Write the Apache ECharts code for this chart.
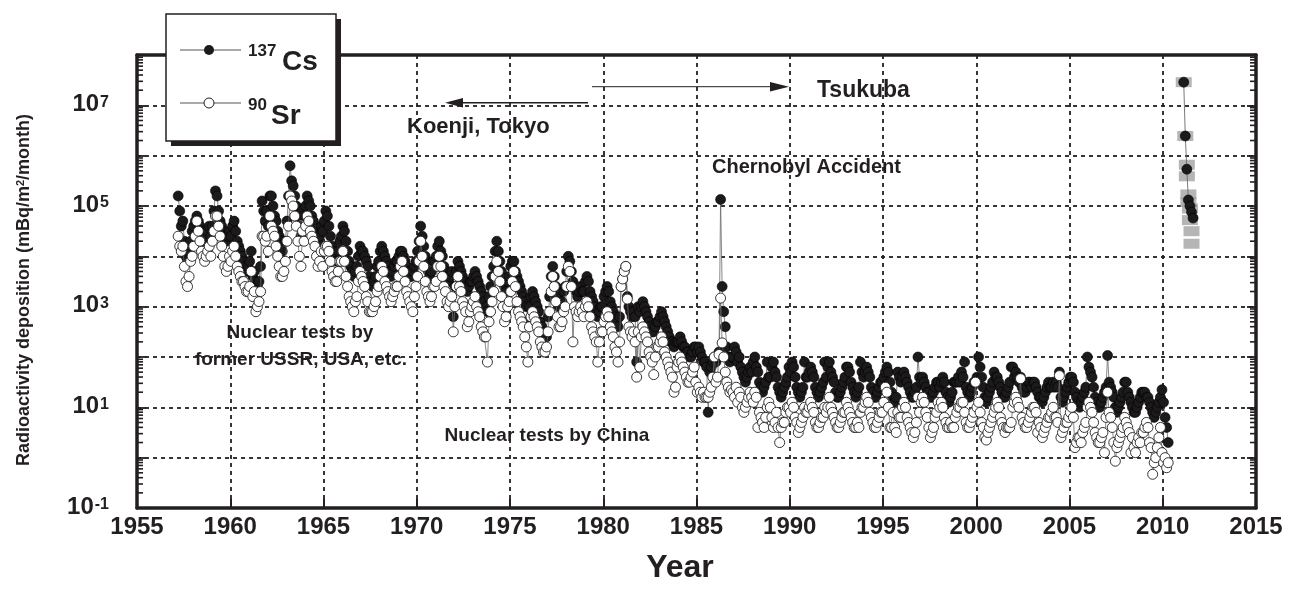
<!DOCTYPE html>
<html><head><meta charset="utf-8">
<script src="https://cdn.jsdelivr.net/npm/echarts@6.0.0/dist/echarts.min.js"></script>
<style>html,body{margin:0;padding:0;background:#fff}#c{width:1293px;height:601px}</style>
</head><body><div id="c"></div>
<script>
// Values are log10 of monthly deposition (mBq/m2/month).
// Monthly series start in April 1957.
const startYear = 1957, startMonth = 4;

const cs1957_59 = [
  5.2,4.9,4.6,4.7,4.3,4.0,3.9,4.1,4.3,
  4.5,4.6,4.7,4.8,4.7,4.6,4.5,4.4,4.3,4.4,4.5,4.6,
  4.4,4.6,4.9,5.3,5.2,4.9,4.7,4.6,4.5,4.4,4.3,4.4];
const sr1957_59 = [
  4.4,4.2,4.1,4.2,3.8,3.5,3.4,3.6,3.9,
  4.0,4.2,4.4,4.7,4.5,4.3,4.1,4.0,3.9,4.0,4.1,4.2,
  4.0,4.3,4.5,4.8,4.8,4.6,4.4,4.2,4.0,3.8,3.7,3.8];

const cs1960s = [
  4.5,4.4,4.6,4.7,4.5,4.3,4.2,4.1,4.0,3.9,3.8,3.7,
  3.8,3.9,4.1,3.6,3.7,3.5,3.4,3.5,3.8,5.1,4.9,4.7,
  4.9,4.6,5.2,5.2,5.0,4.8,4.7,4.5,4.4,4.3,4.1,3.9,
  4.3,4.7,5.2,5.8,5.5,5.4,5.2,5.0,4.8,4.6,4.4,4.9,
  4.8,5.0,5.2,5.1,5.0,4.8,4.7,4.5,4.4,4.3,4.4,4.6,
  4.5,4.7,4.9,4.8,4.6,4.4,4.2,4.1,4.0,3.9,4.1,4.3,
  4.4,4.6,4.5,4.3,4.1,3.9,3.8,3.7,3.6,3.7,3.8,4.0,
  4.2,4.1,4.1,4.0,3.9,3.8,3.6,3.5,3.4,3.5,3.6,3.8,
  3.9,4.1,4.2,4.1,4.0,3.9,3.8,3.7,3.6,3.7,3.8,3.9,
  3.9,4.0,4.1,4.1,4.0,3.9,3.8,3.7,3.6,3.6,3.7,3.8];
const sr1960s = [
  4.0,3.9,4.1,4.2,4.0,3.8,3.7,3.6,3.5,3.5,3.4,3.3,
  3.3,3.4,3.7,3.2,3.3,2.9,3.0,3.1,3.3,4.4,4.4,4.3,
  4.4,4.1,4.8,4.6,4.5,4.4,4.2,4.0,3.8,3.6,3.6,3.7,
  3.9,4.3,4.6,5.2,5.1,5.0,4.8,4.6,4.3,4.0,3.8,4.5,
  4.3,4.6,4.8,4.7,4.5,4.4,4.3,4.2,4.0,3.8,3.9,4.1,
  3.8,4.1,4.2,4.2,4.1,3.9,3.7,3.6,3.5,3.5,3.7,3.9,
  3.9,4.1,3.9,3.6,3.4,3.2,3.1,3.0,2.9,3.1,3.2,3.5,
  3.7,3.6,3.5,3.4,3.2,3.1,2.9,2.9,2.9,3.0,3.1,3.3,
  3.4,3.6,3.8,3.7,3.5,3.4,3.3,3.2,3.1,3.2,3.3,3.4,
  3.4,3.6,3.8,3.9,3.7,3.5,3.3,3.2,3.1,3.0,2.9,3.2];

const cs1970s = [
  3.9,4.1,4.3,4.6,4.4,4.2,4.0,3.9,3.7,3.6,3.7,3.9,
  3.9,4.0,4.2,4.3,4.1,4.0,3.8,3.7,3.6,3.5,3.6,3.7,
  2.8,3.4,3.7,3.9,3.8,3.7,3.6,3.5,3.4,3.3,3.4,3.5,
  3.5,3.6,3.7,3.6,3.5,3.4,3.3,3.2,3.1,3.0,2.9,3.2,
  3.4,3.6,3.8,4.1,4.3,4.1,3.9,3.7,3.5,3.4,3.3,3.5,
  3.6,3.8,3.9,3.9,3.7,3.6,3.5,3.4,3.3,3.2,3.1,3.0,
  2.7,3.0,3.2,3.3,3.2,3.1,3.0,2.9,2.7,2.6,2.5,2.4,
  2.4,2.8,3.2,3.6,3.8,3.6,3.4,3.2,3.0,3.0,3.1,3.3,
  3.4,3.7,4.0,3.9,3.7,3.5,3.4,3.3,3.2,3.3,3.4,3.3,
  3.3,3.5,3.6,3.5,3.3,3.2,3.1,3.0,2.9,2.8,2.9,3.0];
const sr1970s = [
  3.4,3.6,3.9,4.3,4.0,3.8,3.5,3.3,3.2,3.1,3.2,3.4,
  3.4,3.5,3.8,4.0,3.8,3.6,3.4,3.3,3.1,3.0,3.1,3.2,
  2.5,3.0,3.4,3.6,3.4,3.3,3.1,3.0,2.9,2.6,2.7,2.9,
  3.0,3.1,3.2,3.0,2.9,2.8,2.6,2.5,2.4,2.4,1.9,2.7,
  2.9,3.1,3.3,3.6,3.9,3.7,3.5,3.2,3.0,2.7,2.8,3.0,
  3.1,3.3,3.5,3.7,3.4,3.1,2.9,2.8,2.7,2.6,2.4,2.2,
  1.9,2.6,2.8,2.9,2.8,2.7,2.6,2.5,2.3,2.2,2.1,2.1,
  2.2,2.5,2.9,3.3,3.6,3.4,3.1,2.8,2.6,2.6,2.7,2.9,
  3.0,3.4,3.8,3.7,3.4,2.3,3.0,2.9,2.8,2.9,3.0,2.9,
  2.8,3.0,3.1,3.0,2.8,2.6,2.5,2.4,2.3,1.9,2.3,2.5];

const cs1980s = [
  3.0,3.2,3.3,3.4,3.3,3.1,3.0,2.9,2.8,2.7,2.6,2.8,
  3.4,3.55,3.7,3.8,3.2,3.0,2.9,2.8,2.9,2.8,1.9,3.0,
  2.9,3.0,3.1,3.0,2.9,2.8,2.7,2.6,2.5,2.5,2.6,2.7,
  2.7,2.8,2.9,2.8,2.7,2.6,2.5,2.4,2.3,2.3,2.2,2.3,
  2.3,2.3,2.4,2.3,2.2,2.2,2.1,2.1,2.0,2.0,2.1,2.2,
  2.2,2.1,2.2,2.1,2.0,1.9,1.9,1.8,0.9,1.7,1.8,1.9,
  2.0,1.9,2.0,2.1,5.13,3.4,2.9,2.6,2.2,2.0,1.9,2.0,
  2.0,2.2,2.1,1.9,2.0,1.8,1.7,1.6,1.5,1.6,1.7,1.8,
  1.7,1.9,2.0,1.8,1.7,1.5,1.4,1.3,1.4,1.5,1.9,1.6,
  1.6,1.8,1.9,1.7,1.6,1.4,1.3,1.2,1.3,1.4,1.5,1.6];
const sr1980s = [
  2.5,2.7,2.8,2.9,2.8,2.6,2.5,2.4,2.2,2.1,1.9,2.3,
  3.4,3.55,3.7,3.8,3.15,2.6,2.5,2.4,2.5,2.3,1.6,2.5,
  1.8,2.4,2.6,2.5,2.4,2.3,2.1,2.0,1.9,1.65,2.0,2.2,
  2.2,2.3,2.4,2.3,2.1,2.0,1.9,1.8,1.7,1.6,1.3,1.4,
  1.8,1.9,2.0,1.9,1.8,1.7,1.6,1.5,1.5,1.6,1.7,1.8,
  1.5,1.3,1.4,1.3,1.2,1.3,1.2,1.2,1.2,1.3,1.4,1.6,
  2.0,1.5,1.6,2.05,3.17,2.28,2.0,1.7,1.5,1.4,1.3,1.35,
  1.3,1.2,1.4,1.1,1.3,1.2,1.0,0.9,1.0,1.1,1.2,1.3,
  1.2,1.1,1.3,1.2,0.6,0.9,0.8,0.7,0.6,0.8,1.0,1.1,
  1.0,0.8,0.6,0.7,0.9,0.6,0.3,0.6,0.7,0.7,0.9,1.0];

const cs1990s = [
  1.8,1.7,1.9,1.8,1.6,1.4,1.3,1.2,1.3,1.4,1.9,1.6,
  1.6,1.7,1.8,1.7,1.6,1.4,1.3,1.2,1.3,1.4,1.5,1.9,
  1.6,1.8,1.9,1.7,1.6,1.5,1.3,1.2,1.2,1.3,1.4,1.5,
  1.6,1.8,1.8,1.7,1.5,1.4,1.3,1.2,1.3,1.4,1.9,1.7,
  1.6,1.7,1.8,1.7,1.6,1.4,1.3,1.2,1.2,1.3,1.4,1.5,
  1.5,1.6,1.7,1.8,1.7,1.5,1.3,1.2,1.1,1.2,1.7,1.6,
  1.5,1.6,1.7,1.6,1.5,1.4,1.3,1.2,1.2,1.3,1.4,2.0,
  1.6,1.5,1.6,1.5,1.4,1.3,1.3,1.2,1.2,1.3,1.4,1.5,
  1.5,1.4,1.5,1.6,1.5,1.3,1.2,1.1,1.2,1.3,1.5,1.5,
  1.5,1.6,1.5,1.7,1.6,1.9,1.4,1.3,1.2,1.3,1.4,1.5];
const sr1990s = [
  1.0,0.9,1.1,1.0,0.8,0.7,0.5,0.6,0.7,0.8,1.0,0.9,
  0.9,1.0,1.1,1.0,0.9,0.7,0.6,0.6,0.7,0.8,0.8,1.0,
  0.9,1.0,1.2,1.0,0.9,0.8,0.7,0.6,0.6,0.7,0.8,0.9,
  0.9,1.1,1.0,0.9,0.8,0.7,0.6,0.6,0.7,0.6,0.9,1.0,
  1.0,1.1,1.2,1.1,0.9,0.8,0.7,0.6,0.6,0.7,0.8,0.9,
  0.9,1.1,1.4,1.3,1.0,0.6,0.6,0.9,0.6,0.5,0.9,0.8,
  0.8,1.0,1.1,1.0,0.8,0.7,0.6,0.5,0.4,0.5,0.7,1.2,
  0.9,1.1,1.2,1.1,0.9,0.8,0.6,0.4,0.5,0.6,0.8,0.9,
  1.1,1.0,1.1,1.0,0.8,0.7,0.6,0.6,0.7,0.6,0.6,0.8,
  0.9,1.0,1.0,1.1,1.1,0.9,0.7,0.6,0.6,0.7,0.8,0.9];

const cs2000s = [
  1.5,1.6,2.0,1.8,1.6,1.4,1.2,1.1,1.2,1.3,1.4,1.5,
  1.7,1.6,1.6,1.5,1.4,1.3,1.2,1.2,1.3,1.4,1.5,1.8,
  1.8,1.6,1.7,1.6,1.5,1.6,1.4,1.3,1.3,1.4,1.5,1.5,
  1.4,1.5,1.5,1.4,1.3,1.2,1.2,1.1,1.2,1.3,1.4,1.5,
  1.4,1.4,1.5,1.4,1.5,1.4,1.7,1.2,1.1,1.2,1.3,1.4,
  1.5,1.6,1.6,1.5,1.3,1.2,1.1,1.0,1.1,1.2,1.3,1.4,
  2.0,1.8,1.7,1.6,1.4,1.2,1.1,1.0,1.0,1.1,1.2,1.3,
  1.4,2.03,1.5,1.4,1.3,1.2,1.0,0.9,1.0,1.1,1.2,1.3,
  1.5,1.5,1.3,1.2,1.1,1.0,0.9,0.9,1.0,1.1,1.2,1.3,
  1.3,1.3,1.2,1.2,1.1,1.0,0.9,0.8,0.9,1.0,1.1,1.2];
const sr2000s = [
  1.5,1.0,1.1,0.9,0.7,0.6,0.4,0.35,0.5,0.6,0.7,0.8,
  0.9,1.0,1.1,1.0,0.8,0.7,0.6,0.5,0.6,0.6,0.6,0.7,
  1.0,1.1,1.2,1.1,1.0,1.57,0.8,0.7,0.6,0.6,0.7,0.8,
  0.9,1.0,1.0,0.9,0.5,0.7,0.6,0.4,0.5,0.6,0.7,0.8,
  0.8,0.9,1.0,0.8,0.8,0.7,1.63,0.4,0.5,0.6,0.7,0.7,
  0.8,0.9,1.0,0.8,0.2,0.3,0.4,0.4,0.3,0.5,0.6,0.7,
  1.0,1.1,1.0,0.9,0.7,0.5,0.4,0.3,0.3,0.4,0.5,0.1,
  0.8,1.3,0.9,0.8,0.6,0.3,-0.07,0.2,0.3,0.4,0.5,0.6,
  0.8,0.7,0.6,0.5,0.1,0.4,0.2,0.1,0.3,0.4,0.3,0.5,
  0.5,0.6,0.7,0.6,0.3,0.2,-0.33,-0.1,0.0,0.2,0.4,0.6];

const cs2010 = [1.35,1.1,0.8,0.6,0.3];
const sr2010 = [0.1,-0.1,0.0,-0.2,-0.1];

// 2011 (Tsukuba, after Fukushima), month numbers and log10 values
const cs2011Months = [3,4,5,6,7,8,9];
const cs2011 = [7.46,6.39,5.73,5.12,5.0,4.88,4.76];
const grey2011Months = [3,4,5,5,6,6,7,7,8,8];
const grey2011 = [7.46,6.39,5.82,5.59,5.23,5.08,4.95,4.72,4.5,4.25];

const xTicks = [1955,1960,1965,1970,1975,1980,1985,1990,1995,2000,2005,2010,2015];

function monthly(lists) {
  const out = []; let y = startYear, m = startMonth;
  lists.forEach(arr => arr.forEach(v => {
    out.push([y + (m - 1.5) / 12, v]);
    m++; if (m > 12) { m = 1; y++; }
  }));
  return out;
}
function inYear(year, months, vals) { return vals.map((v, i) => [year + (months[i] - 1.5) / 12, v]); }

const csData = monthly([cs1957_59, cs1960s, cs1970s, cs1980s, cs1990s, cs2000s, cs2010]);
const srData = monthly([sr1957_59, sr1960s, sr1970s, sr1980s, sr1990s, sr2000s, sr2010]);
const cs11Data = inYear(2011, cs2011Months, cs2011);
const grey11Data = inYear(2011, grey2011Months, grey2011);

// log minor tick positions (axis decoration)
const minorTicks = [];
for (let n = -1; n < 8; n++) for (let k = 2; k <= 9; k++) minorTicks.push([1955, n + Math.log10(k)]);

const FF = '"Liberation Sans", Arial, sans-serif';
const INK = '#231f20';

const chart = echarts.init(document.getElementById('c'), null, {renderer: 'canvas'});
chart.setOption({
  animation: false,
  backgroundColor: '#fff',
  grid: {left: 137, right: 37, top: 55, bottom: 93},
  xAxis: [{
    type: 'value', min: 1955, max: 2015, interval: 5, position: 'bottom',
    axisLine: {onZero: false, lineStyle: {color: INK, width: 3.5}},
    axisTick: {inside: true, length: 9, lineStyle: {color: INK, width: 2}},
    axisLabel: {fontSize: 24, fontWeight: 'bold', color: INK, fontFamily: FF, margin: 7,
      formatter: v => xTicks.indexOf(v) >= 0 ? String(v) : ''},
    splitLine: {show: true, lineStyle: {color: INK, width: 1.8, type: [4, 4]}}
  }, {
    type: 'value', min: 1955, max: 2015, interval: 5, position: 'top',
    axisLine: {onZero: false, lineStyle: {color: INK, width: 3.5}},
    axisTick: {show: false}, axisLabel: {show: false}, splitLine: {show: false}
  }],
  yAxis: [{
    type: 'value', min: -1, max: 8, interval: 1, position: 'left',
    axisLine: {onZero: false, lineStyle: {color: INK, width: 3.5}},
    axisTick: {inside: true, length: 9, lineStyle: {color: INK, width: 1.8}},
    axisLabel: {
      margin: 28,
      formatter: v => (Math.abs(v) % 2 === 1) ? '{b|10}{s|' + v + '}' : '',
      rich: {
        b: {fontSize: 24, fontWeight: 'bold', color: INK, fontFamily: FF, verticalAlign: 'bottom', lineHeight: 22},
        s: {fontSize: 16, fontWeight: 'bold', color: INK, fontFamily: FF, verticalAlign: 'top', lineHeight: 14, padding: [0, 0, 0, 1]}
      }
    },
    splitLine: {show: true, lineStyle: {color: INK, width: 1.8, type: [4, 4]}}
  }, {
    type: 'value', min: -1, max: 8, interval: 1, position: 'right',
    axisLine: {onZero: false, lineStyle: {color: INK, width: 3.5}},
    axisTick: {inside: true, length: 9, lineStyle: {color: INK, width: 1.8}},
    axisLabel: {show: false}, splitLine: {show: false}
  }],
  series: [
    {
      name: '137Cs', type: 'line', data: csData, xAxisIndex: 0, yAxisIndex: 0,
      symbol: 'circle', symbolSize: 10, showSymbol: true, showAllSymbol: true,
      itemStyle: {color: '#1c1a1b', borderColor: '#000', borderWidth: 0.6},
      lineStyle: {color: '#6a6a6a', width: 0.8}, z: 3, silent: true
    },
    {
      name: '90Sr', type: 'line', data: srData,
      symbol: 'circle', symbolSize: 10, showSymbol: true, showAllSymbol: true,
      itemStyle: {color: '#ffffff', borderColor: INK, borderWidth: 0.9},
      lineStyle: {color: '#6a6a6a', width: 0.8}, z: 4, silent: true
    },
    {
      name: 'grey 2011', type: 'scatter', data: grey11Data,
      symbol: 'rect', symbolSize: [16, 10],
      itemStyle: {color: '#a3a3a3'}, z: 3, silent: true
    },
    {
      name: '137Cs 2011', type: 'line', data: cs11Data,
      symbol: 'circle', symbolSize: 10, showSymbol: true,
      itemStyle: {color: '#1c1a1b', borderColor: '#000', borderWidth: 0.6},
      lineStyle: {color: '#6a6a6a', width: 0.9}, z: 4, silent: true
    },
    {
      name: 'minor ticks', type: 'custom', data: minorTicks, silent: true, z: 6,
      renderItem: function (params, api) {
        const y = api.coord([api.value(0), api.value(1)])[1];
        const cs = params.coordSys;
        return {type: 'group', children: [
          {type: 'line', shape: {x1: cs.x, y1: y, x2: cs.x + 6, y2: y}, style: {stroke: INK, lineWidth: 1.6}},
          {type: 'line', shape: {x1: cs.x + cs.width - 6, y1: y, x2: cs.x + cs.width, y2: y}, style: {stroke: INK, lineWidth: 1.6}}
        ]};
      }
    }
  ],
  graphic: [
    // legend box with shadow
    {type: 'rect', z: 100, shape: {x: 171, y: 19, width: 170, height: 127}, style: {fill: INK}},
    {type: 'rect', z: 101, shape: {x: 166, y: 14, width: 170, height: 127}, style: {fill: '#fff', stroke: INK, lineWidth: 1.5}},
    {type: 'line', z: 102, shape: {x1: 180, y1: 50, x2: 241, y2: 50}, style: {stroke: '#555', lineWidth: 1}},
    {type: 'circle', z: 103, shape: {cx: 209, cy: 50, r: 5}, style: {fill: '#1c1a1b'}},
    {type: 'text', z: 103, style: {text: '137', x: 248, y: 51, font: 'bold 17px ' + FF, fill: INK, align: 'left', verticalAlign: 'middle', textAlign: 'left', textVerticalAlign: 'middle'}},
    {type: 'text', z: 103, style: {text: 'Cs', x: 282, y: 62, font: 'bold 28px ' + FF, fill: INK, align: 'left', verticalAlign: 'middle', textAlign: 'left', textVerticalAlign: 'middle'}},
    {type: 'line', z: 102, shape: {x1: 180, y1: 103, x2: 241, y2: 103}, style: {stroke: '#555', lineWidth: 1}},
    {type: 'circle', z: 103, shape: {cx: 209, cy: 103, r: 5}, style: {fill: '#fff', stroke: INK, lineWidth: 1}},
    {type: 'text', z: 103, style: {text: '90', x: 248, y: 105, font: 'bold 17px ' + FF, fill: INK, align: 'left', verticalAlign: 'middle', textAlign: 'left', textVerticalAlign: 'middle'}},
    {type: 'text', z: 103, style: {text: 'Sr', x: 271, y: 116, font: 'bold 28px ' + FF, fill: INK, align: 'left', verticalAlign: 'middle', textAlign: 'left', textVerticalAlign: 'middle'}},
    // annotations
    {type: 'text', z: 50, style: {text: 'Tsukuba', x: 817, y: 91, font: 'bold 23px ' + FF, fill: INK, align: 'left', verticalAlign: 'middle', textAlign: 'left', textVerticalAlign: 'middle'}},
    {type: 'line', z: 50, shape: {x1: 592, y1: 86.7, x2: 772, y2: 86.7}, style: {stroke: INK, lineWidth: 1}},
    {type: 'polygon', z: 50, shape: {points: [[789, 86.7], [770, 82], [770, 91.4]]}, style: {fill: INK}},
    {type: 'line', z: 50, shape: {x1: 588, y1: 102.7, x2: 460, y2: 102.7}, style: {stroke: INK, lineWidth: 1.5}},
    {type: 'polygon', z: 50, shape: {points: [[445, 102.7], [463, 98], [463, 107.4]]}, style: {fill: INK}},
    {type: 'text', z: 50, style: {text: 'Koenji, Tokyo', x: 407, y: 127, font: 'bold 22px ' + FF, fill: INK, align: 'left', verticalAlign: 'middle', textAlign: 'left', textVerticalAlign: 'middle'}},
    {type: 'text', z: 50, style: {text: 'Chernobyl Accident', x: 712, y: 167, font: 'bold 20px ' + FF, fill: INK, align: 'left', verticalAlign: 'middle', textAlign: 'left', textVerticalAlign: 'middle'}},
    {type: 'text', z: 50, style: {text: 'Nuclear tests by', x: 300, y: 333, font: 'bold 19px ' + FF, fill: INK, align: 'center', verticalAlign: 'middle', textAlign: 'center', textVerticalAlign: 'middle'}},
    {type: 'text', z: 50, style: {text: 'former USSR, USA, etc.', x: 301, y: 360, font: 'bold 19px ' + FF, fill: INK, align: 'center', verticalAlign: 'middle', textAlign: 'center', textVerticalAlign: 'middle'}},
    {type: 'text', z: 50, style: {text: 'Nuclear tests by China', x: 547, y: 436, font: 'bold 19px ' + FF, fill: INK, align: 'center', verticalAlign: 'middle', textAlign: 'center', textVerticalAlign: 'middle'}},
    // axis titles
    {type: 'text', z: 50, style: {text: 'Year', x: 680, y: 568, font: 'bold 32px ' + FF, fill: INK, align: 'center', verticalAlign: 'middle', textAlign: 'center', textVerticalAlign: 'middle'}},
    {type: 'text', z: 50, x: 24, y: 290, rotation: Math.PI / 2, style: {
      text: 'Radioactivity deposition (mBq/m{s|2}/month)', font: 'bold 18px ' + FF, fill: INK,
      align: 'center', verticalAlign: 'middle', textAlign: 'center', textVerticalAlign: 'middle',
      rich: {s: {fontSize: 11, fontWeight: 'bold', fontFamily: FF, fill: INK, verticalAlign: 'top', lineHeight: 11}}
    }}
  ]
});
</script></body></html>
